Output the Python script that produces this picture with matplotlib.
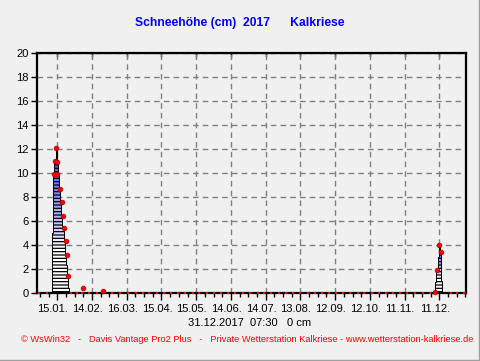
import numpy as np
import matplotlib.pyplot as plt
from matplotlib.colors import LinearSegmentedColormap
from matplotlib.ticker import FixedLocator, MultipleLocator
from matplotlib.transforms import ScaledTranslation
from matplotlib.lines import Line2D

plt.rcParams['font.family'] = ['Liberation Sans', 'DejaVu Sans']
plt.rcParams['hatch.linewidth'] = 0.9

# Tagesbalken (Tag im Jahr, 0 = 1. Januar)
jan_days = [10, 11, 12, 13, 14, 15, 16, 17, 18, 19, 20, 21, 22, 23, 24]
jan_depth = [5.0, 10.0, 11.0, 12.0, 10.9, 9.8, 8.7, 7.6, 6.4, 5.4, 4.3, 3.2, 2.3, 1.4, 0.4]
dec_days = [341, 342, 343, 344, 345, 346]
dec_depth = [0.9, 1.9, 3.0, 4.0, 3.4, 1.0]

# einzelne Messpunkte
obs_days = [-2.0, 5.1, 10.9, 11.7, 12.9, 14.0, 14.1, 16.3, 17.8, 18.9, 19.8, 21.5,
            22.4, 23.2, 25.8, 30.7, 35.6, 36.2, 41.6, 48.3, 53.2, 61.2, 68.1, 74.8,
            82.0, 87.8, 93.5, 99.8, 106.4, 112.5, 118.5, 124.5, 130.9, 136.6, 143.0,
            149.3, 155.6, 161.6, 167.7, 174.1, 180.4, 187.1, 192.8, 198.6, 205.2,
            211.5, 217.8, 223.9, 230.3, 236.3, 242.4, 248.5, 254.7, 261.1, 267.1,
            273.5, 279.2, 285.4, 291.6, 297.8, 304.0, 310.2, 316.4, 322.6, 329.6,
            335.5, 340.2, 342.2, 344.0, 345.1, 353.8, 359.5, 365.5]
obs_depth = [0, 0, 9.9, 11.0, 12.1, 10.9, 9.9, 8.7, 7.6, 6.4, 5.4, 4.3,
             3.2, 1.4, 0, 0, 0, 0.4, 0, 0, 0.15, 0, 0, 0,
             0, 0, 0, 0, 0, 0, 0, 0, 0, 0, 0,
             0, 0, 0, 0, 0, 0, 0, 0, 0, 0,
             0, 0, 0, 0, 0, 0, 0, 0, 0, 0,
             0, 0, 0, 0, 0, 0, 0, 0, 0, 0,
             0, 0.1, 1.9, 4.0, 3.4, 0, 0, 0]

tick_days = [14, 44, 74, 104, 134, 164, 194, 224, 254, 284, 314, 344]
tick_labels = ['15.01.', '14.02.', '16.03.', '15.04.', '15.05.', '14.06.',
               '14.07.', '13.08.', '12.09.', '12.10.', '11.11.', '11.12.']

bg = '#f0f0f0'
fig = plt.figure(figsize=(4.81, 3.61), dpi=100, facecolor=bg)
ax = fig.add_axes([37 / 481, 68 / 361, 429 / 481, 240 / 361], facecolor=bg)

cmap = LinearSegmentedColormap.from_list(
    'snow', [(0, 'white'), (0.3, 'white'), (0.55, '#b0b0ff'), (1, '#3838ff')])
grad = np.linspace(0, 1, 256).reshape(-1, 1)

for days, depth in [(jan_days, jan_depth), (dec_days, dec_depth)]:
    edges = np.append(np.array(days) - 0.5, days[-1] + 0.5)
    patch = ax.stairs(depth, edges, baseline=0, fill=True, facecolor='none',
                      edgecolor='black', hatch='-----', linewidth=0.7, zorder=3)
    im = ax.imshow(grad, extent=[edges[0], edges[-1], 0, max(depth)], origin='lower',
                   aspect='auto', cmap=cmap, zorder=2.2, interpolation='bilinear')
    im.set_clip_path(patch)

x = np.array(obs_days)
y = np.array(obs_depth)
snow = y > 0
ax.plot(x[snow], y[snow], linestyle='none', marker='o', markersize=3.4,
        markerfacecolor='red', markeredgecolor='#b00000', markeredgewidth=0.5,
        zorder=4, clip_on=False)
ax.plot(x[~snow], y[~snow], linestyle='none', marker='s', markersize=1.9,
        markerfacecolor='red', markeredgewidth=0, zorder=4, clip_on=False)

ax.set_xlim(-3.5, 367)
ax.set_ylim(0, 20)
ax.set_yticks(range(0, 21, 2))
ax.xaxis.set_major_locator(FixedLocator(tick_days))
ax.set_xticklabels(tick_labels)
ax.xaxis.set_minor_locator(MultipleLocator(7.5, offset=6.5))
ax.grid(True, color='#808080', linestyle=(0, (4, 3)), linewidth=1)
ax.set_axisbelow(True)

for s in ax.spines.values():
    s.set_linewidth(1.6)
    s.set_zorder(3.5)
ax.tick_params(axis='both', which='major', direction='out', length=4, width=1,
               labelsize=8, pad=2)
ax.tick_params(axis='x', which='minor', direction='out', length=3, width=1)
ax.tick_params(axis='x', which='major', length=5, pad=3)
off = ScaledTranslation(-4.5 / 100, 0, fig.dpi_scale_trans)
for lab in ax.get_xticklabels():
    lab.set_transform(lab.get_transform() + off)

top = ax.secondary_xaxis('top')
top.xaxis.set_major_locator(FixedLocator(tick_days))
top.tick_params(direction='in', length=3, width=1, labeltop=False)

fig.text(239.5 / 481, 1 - 23 / 361, 'Schneehöhe (cm)  2017      Kalkriese',
         color='#0000ff', fontsize=8.7, fontweight='bold', ha='center', va='center')
fig.text(250 / 481, 1 - 323 / 361, '31.12.2017  07:30   0 cm',
         color='black', fontsize=8, ha='center', va='center')
fig.text(247 / 481, 1 - 340 / 361,
         '© WsWin32   -   Davis Vantage Pro2 Plus   -   Private Wetterstation Kalkriese - www.wetterstation-kalkriese.de',
         color='red', fontsize=6.7, ha='center', va='center')

fig.add_artist(Line2D([0, 1], [1.5 / 361, 1.5 / 361], transform=fig.transFigure,
                      color='#a0a0a0', linewidth=1))
fig.add_artist(Line2D([479.5 / 481, 479.5 / 481], [0, 1], transform=fig.transFigure,
                      color='#a0a0a0', linewidth=1))

fig.savefig('out.png', dpi=100, facecolor=bg)
